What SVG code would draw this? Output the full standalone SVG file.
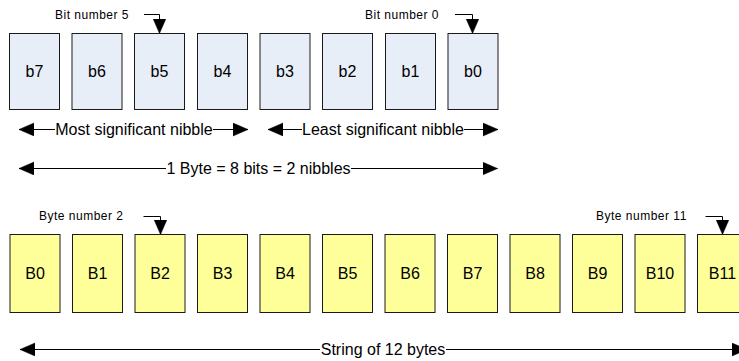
<svg xmlns="http://www.w3.org/2000/svg" width="739" height="361" viewBox="0 0 739 361">
<style>
text{font-family:"Liberation Sans",Arial,sans-serif;fill:#000}
.bit rect{fill:#E8EEF8;stroke:#1a1a1a;stroke-width:1}
.byte rect{fill:#FFFF99;stroke:#1a1a1a;stroke-width:1}
.lbl{font-size:16px;text-anchor:middle}
.small{font-size:12px;letter-spacing:0.5px}
.ln{fill:none;stroke:#000;stroke-width:1}
.arr{marker-end:url(#ah)}
.arl{marker-start:url(#ah)}
</style>
<defs>
<marker id="ah" markerUnits="userSpaceOnUse" markerWidth="16" markerHeight="14" refX="15" refY="6.5" orient="auto-start-reverse" viewBox="0 0 16 14">
<path d="M0,0 L15,6.5 L0,13 Z" fill="#000" stroke="#000" stroke-width="0.5" stroke-linejoin="miter"/>
</marker>
</defs>
<g id="connectors">
<path class="ln arr" d="M144,14.5 H159.5 V33.5"/>
<path class="ln arr" d="M455,14.5 H472.5 V33.5"/>
<path class="ln arr" d="M143.5,216.5 H160.5 V234.5"/>
<path class="ln arr" d="M705.5,216.5 H722.5 V234.5"/>
<line class="ln arl" x1="19" y1="129.5" x2="55" y2="129.5"/>
<line class="ln arr" x1="213" y1="129.5" x2="248" y2="129.5"/>
<line class="ln arl" x1="268" y1="129.5" x2="302" y2="129.5"/>
<line class="ln arr" x1="464" y1="129.5" x2="498" y2="129.5"/>
<line class="ln arl" x1="19" y1="168.5" x2="166" y2="168.5"/>
<line class="ln arr" x1="351" y1="168.5" x2="497.5" y2="168.5"/>
<line class="ln arl" x1="20" y1="349.5" x2="320" y2="349.5"/>
<line class="ln arr" x1="446" y1="349.5" x2="747" y2="349.5"/>
</g>
<g id="labels">
<text class="small" x="55" y="19">Bit number 5</text>
<text class="small" x="365" y="19">Bit number 0</text>
<text class="small" x="39" y="220">Byte number 2</text>
<text class="small" x="596" y="220">Byte number 11</text>
<text class="lbl" x="134" y="135">Most significant nibble</text>
<text class="lbl" x="383" y="135">Least significant nibble</text>
<text class="lbl" x="258.5" y="174">1 Byte = 8 bits = 2 nibbles</text>
<text class="lbl" x="383" y="355">String of 12 bytes</text>
</g>
<g id="b7" class="bit"><rect x="9.5" y="33.5" width="50" height="76"/><text class="lbl" x="34.5" y="77">b7</text></g>
<g id="b6" class="bit"><rect x="72" y="33.5" width="50" height="76"/><text class="lbl" x="97" y="77">b6</text></g>
<g id="b5" class="bit"><rect x="134.5" y="33.5" width="50" height="76"/><text class="lbl" x="159.5" y="77">b5</text></g>
<g id="b4" class="bit"><rect x="197.5" y="33.5" width="50" height="76"/><text class="lbl" x="222.5" y="77">b4</text></g>
<g id="b3" class="bit"><rect x="260" y="33.5" width="50" height="76"/><text class="lbl" x="285" y="77">b3</text></g>
<g id="b2" class="bit"><rect x="322.5" y="33.5" width="50" height="76"/><text class="lbl" x="347.5" y="77">b2</text></g>
<g id="b1" class="bit"><rect x="385.5" y="33.5" width="50" height="76"/><text class="lbl" x="410.5" y="77">b1</text></g>
<g id="b0" class="bit"><rect x="448" y="33.5" width="50" height="76"/><text class="lbl" x="473" y="77">b0</text></g>
<g id="B0" class="byte"><rect x="10" y="234.5" width="50" height="78"/><text class="lbl" x="35" y="279">B0</text></g>
<g id="B1" class="byte"><rect x="72.5" y="234.5" width="50" height="78"/><text class="lbl" x="97.5" y="279">B1</text></g>
<g id="B2" class="byte"><rect x="135" y="234.5" width="50" height="78"/><text class="lbl" x="160" y="279">B2</text></g>
<g id="B3" class="byte"><rect x="197.5" y="234.5" width="50" height="78"/><text class="lbl" x="222.5" y="279">B3</text></g>
<g id="B4" class="byte"><rect x="260" y="234.5" width="50" height="78"/><text class="lbl" x="285" y="279">B4</text></g>
<g id="B5" class="byte"><rect x="322.5" y="234.5" width="50" height="78"/><text class="lbl" x="347.5" y="279">B5</text></g>
<g id="B6" class="byte"><rect x="385" y="234.5" width="50" height="78"/><text class="lbl" x="410" y="279">B6</text></g>
<g id="B7" class="byte"><rect x="447.5" y="234.5" width="50" height="78"/><text class="lbl" x="472.5" y="279">B7</text></g>
<g id="B8" class="byte"><rect x="510" y="234.5" width="50" height="78"/><text class="lbl" x="535" y="279">B8</text></g>
<g id="B9" class="byte"><rect x="572.5" y="234.5" width="50" height="78"/><text class="lbl" x="597.5" y="279">B9</text></g>
<g id="B10" class="byte"><rect x="635" y="234.5" width="50" height="78"/><text class="lbl" x="660" y="279">B10</text></g>
<g id="B11" class="byte"><rect x="697.5" y="234.5" width="50" height="78"/><text class="lbl" x="722.5" y="279">B11</text></g>
</svg>
